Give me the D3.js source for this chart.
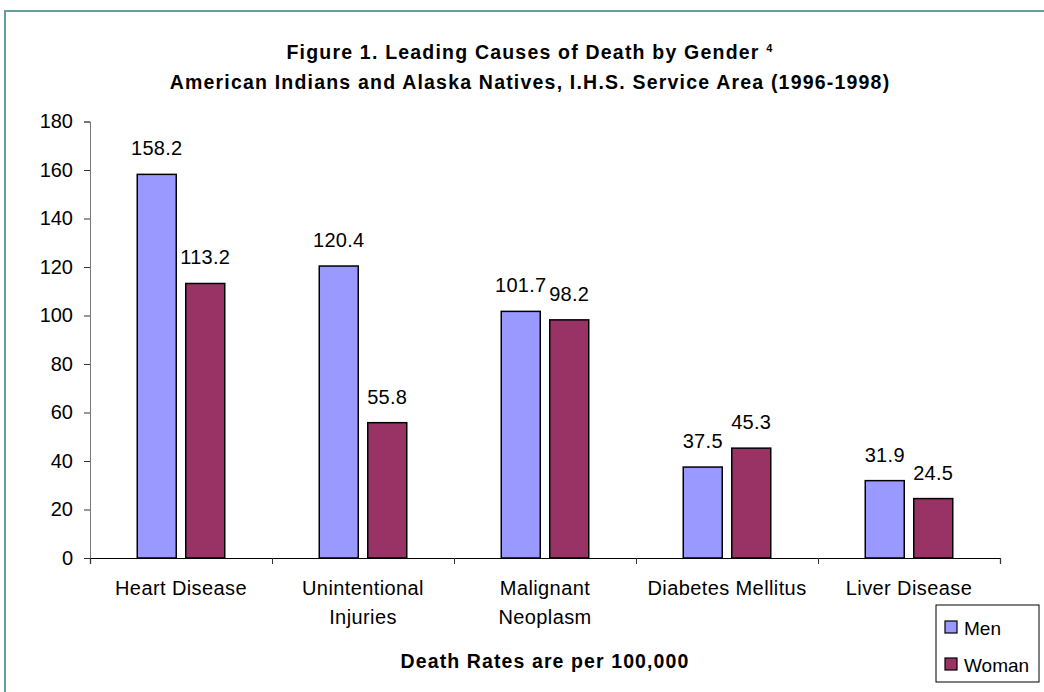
<!DOCTYPE html>
<html>
<head>
<meta charset="utf-8">
<script src="https://cdn.jsdelivr.net/npm/d3@7"></script>
<style>
  body { margin: 0; background: #fff; }
  text { font-family: "Liberation Sans", Arial, sans-serif; fill: #000; }
</style>
</head>
<body>
<script>
// chart values
const categories = ["Heart Disease", "Unintentional\nInjuries", "Malignant\nNeoplasm", "Diabetes Mellitus", "Liver Disease"]
const menValues = [158.2, 120.4, 101.7, 37.5, 31.9]
const womanValues = [113.2, 55.8, 98.2, 45.3, 24.5]
const seriesNames = ["Men", "Woman"]
const seriesColors = ["#9999ff", "#993366"]
const yTicks = [0, 20, 40, 60, 80, 100, 120, 140, 160, 180]

const width = 1044, height = 692
const plot = {left: 90, right: 1000, top: 121.5, bottom: 558}

const svg = d3.select('body').append('svg')
    .attr('width', width)
    .attr('height', height)

// outer frame (runs off the right and bottom edges)
svg.append('rect')
    .attr('x', 5).attr('y', 11)
    .attr('width', width + 10).attr('height', height + 10)
    .attr('fill', 'none')
    .attr('stroke', '#669c99')
    .attr('stroke-width', 2)

// title
const title = svg.append('text')
    .attr('text-anchor', 'middle')
    .style('font-weight', 'bold')
    .style('font-size', '19.5px')
    .style('letter-spacing', '1.2px')
title.append('tspan').attr('x', 530).attr('y', 59)
    .text('Figure 1. Leading Causes of Death by Gender ')
title.append('tspan').attr('dy', -7).style('font-size', '11px').text('4')
title.append('tspan').attr('x', 530).attr('y', 89)
    .text('American Indians and Alaska Natives, I.H.S. Service Area (1996-1998)')

// scales
const x = d3.scaleBand()
    .domain(categories)
    .range([plot.left, plot.right])

const xEdges = d3.scaleLinear()
    .domain([0, categories.length])
    .range([plot.left, plot.right])

const y = d3.scaleLinear()
    .domain([0, 180])
    .range([plot.bottom, plot.top])

const barW = 39, barGap = 9.5
const groupW = barW * 2 + barGap

// y axis
const yAxis = svg.append('g')
    .attr('transform', 'translate(' + plot.left + ',0)')
    .call(d3.axisLeft(y).tickValues(yTicks).tickSize(6).tickPadding(11))
yAxis.select('.domain').attr('stroke', '#777')
yAxis.selectAll('.tick line').attr('stroke', '#333')
yAxis.selectAll('.tick text')
    .style('font-size', '20px')
    .style('font-family', '"Liberation Sans", Arial, sans-serif')
    .attr('fill', '#000')

// bars
const rows = categories.map((c, i) => ({cat: c, values: [menValues[i], womanValues[i]]}))

const groups = svg.selectAll('.grp').data(rows)
    .enter()
    .append('g')
    .attr('transform', d => 'translate(' + (x(d.cat) + (x.bandwidth() - groupW) / 2) + ',0)')

groups.selectAll('rect')
    .data(d => d.values)
    .enter()
    .append('rect')
    .attr('x', (d, j) => j * (barW + barGap))
    .attr('y', d => y(d))
    .attr('width', barW)
    .attr('height', d => y(0) - y(d))
    .attr('fill', (d, j) => seriesColors[j])
    .attr('stroke', '#000')
    .attr('stroke-width', 1.5)

groups.selectAll('.val')
    .data(d => d.values)
    .enter()
    .append('text')
    .attr('x', (d, j) => j * (barW + barGap) + barW / 2)
    .attr('y', d => y(d) - 19)
    .attr('text-anchor', 'middle')
    .style('font-size', '20px')
    .style('letter-spacing', '0.3px')
    .text(d => d.toFixed(1))

// x axis with ticks on the category edges
const xAxis = svg.append('g')
    .attr('transform', 'translate(0,' + plot.bottom + ')')
    .call(d3.axisBottom(xEdges).tickValues(d3.range(categories.length + 1)).tickSize(6).tickFormat(''))
xAxis.select('.domain').attr('stroke', '#000').attr('stroke-width', 1.2)
xAxis.selectAll('.tick line').attr('stroke', '#333')

// category labels
svg.selectAll('.cat').data(categories)
    .enter()
    .append('text')
    .attr('text-anchor', 'middle')
    .style('font-size', '20px')
    .style('letter-spacing', '0.4px')
    .each(function(d) {
        const t = d3.select(this)
        d.split('\n').forEach((line, k) => {
            t.append('tspan')
                .attr('x', x(d) + x.bandwidth() / 2)
                .attr('y', 595 + k * 29)
                .text(line)
        })
    })

// footer
svg.append('text')
    .attr('x', 545).attr('y', 668)
    .attr('text-anchor', 'middle')
    .style('font-weight', 'bold')
    .style('font-size', '19.5px')
    .style('letter-spacing', '1.1px')
    .text('Death Rates are per 100,000')

// legend
const legend = svg.append('g')
legend.append('rect')
    .attr('x', 936).attr('y', 605)
    .attr('width', 103).attr('height', 77)
    .attr('fill', '#fff')
    .attr('stroke', '#000')
    .attr('stroke-width', 1)

seriesNames.forEach((name, i) => {
    legend.append('rect')
        .attr('x', 945).attr('y', 621 + i * 37)
        .attr('width', 12).attr('height', 12)
        .attr('fill', seriesColors[i])
        .attr('stroke', '#000')
        .attr('stroke-width', 1.2)
    legend.append('text')
        .attr('x', 964).attr('y', 635 + i * 37)
        .style('font-size', '19px')
        .text(name)
})
</script>
</body>
</html>
